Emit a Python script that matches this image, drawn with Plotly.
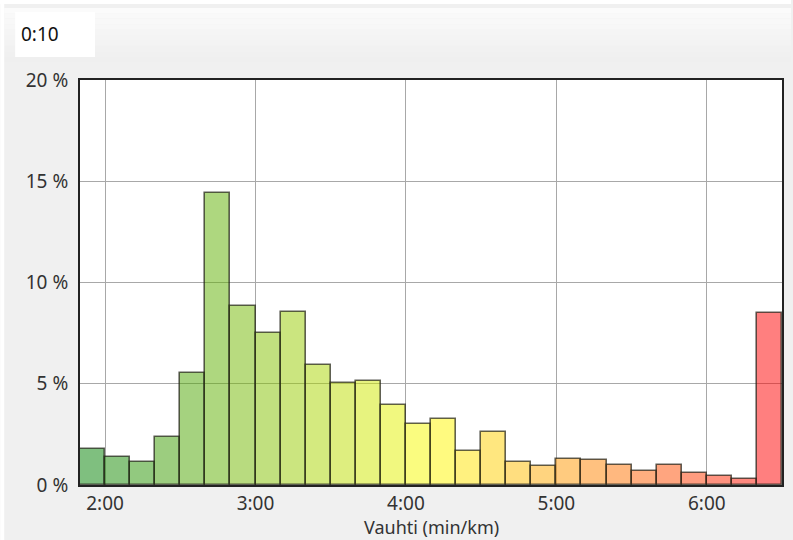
import plotly.graph_objects as go

# ---- data ----
bin_start_sec = [110, 120, 130, 140, 150, 160, 170, 180, 190, 200, 210, 220, 230, 240,
                 250, 260, 270, 280, 290, 300, 310, 320, 330, 340, 350, 360, 370, 380]
share_pct = [1.77, 1.40, 1.16, 2.36, 5.55, 14.41, 8.83, 7.52, 8.53, 5.94, 5.05, 5.15, 3.96, 2.99,
             3.24, 1.70, 2.62, 1.15, 0.96, 1.26, 1.25, 0.98, 0.70, 0.98, 0.58, 0.45, 0.32, 8.50]
x_tick_sec = [120, 180, 240, 300, 360]
x_tick_labels = ["2:00", "3:00", "4:00", "5:00", "6:00"]
y_ticks = [0, 5, 10, 15, 20]
y_tick_labels = ["0 %", "5 %", "10 %", "15 %", "20 %"]
bin_width_sec = 10
x_title = "Vauhti (min/km)"
bin_label = "0:10"

# ---- styling ----
W, H = 793, 540
L, R, T, B = 80, 784, 80, 485
FONT = "Noto Sans"
FS = 19


def grad_color(t):
    # green -> yellow -> red
    if t <= 0.5:
        f = t / 0.5
        r, g, b = 0 + 255 * f, 128 + 127 * f, 0
    else:
        f = (t - 0.5) / 0.5
        r, g, b = 255, 255 * (1 - f), 0
    return f"rgba({r:.0f},{g:.0f},{b:.0f},0.5)"


n = len(share_pct)
colors = [grad_color(i / (n - 1)) for i in range(n)]

fig = go.Figure()
fig.add_trace(go.Bar(
    x=bin_start_sec, y=share_pct, width=bin_width_sec, offset=0,
    marker=dict(color=colors, line=dict(color="rgba(30,30,20,0.7)", width=1.6)),
    hoverinfo="skip", showlegend=False,
))


def px_x(px):
    return (px - L) / (R - L)


def px_y(py):
    return (B - py) / (B - T)


shapes = []
# top gradient strip
strip_top, strip_bot = 8, 62
nb = 10
for i in range(nb):
    y0 = strip_top + (strip_bot - strip_top) * i / nb
    y1 = strip_top + (strip_bot - strip_top) * (i + 1) / nb
    v = int(251 - (251 - 239) * i / (nb - 1))
    shapes.append(dict(type="rect", xref="paper", yref="paper", layer="below",
                       x0=px_x(4), x1=px_x(W), y0=px_y(y1), y1=px_y(y0),
                       line=dict(width=0), fillcolor=f"rgb({v},{v},{v})"))
# white outer margins
shapes.append(dict(type="rect", xref="paper", yref="paper", layer="below",
                   x0=px_x(0), x1=px_x(W), y0=px_y(4), y1=px_y(0),
                   line=dict(width=0), fillcolor="white"))
shapes.append(dict(type="rect", xref="paper", yref="paper", layer="below",
                   x0=px_x(0), x1=px_x(4), y0=px_y(H), y1=px_y(0),
                   line=dict(width=0), fillcolor="white"))
# white label box
shapes.append(dict(type="rect", xref="paper", yref="paper", layer="below",
                   x0=px_x(15), x1=px_x(95), y0=px_y(57), y1=px_y(12),
                   line=dict(width=0), fillcolor="white"))

fig.update_layout(
    width=W, height=H,
    margin=dict(l=L, r=W - R, t=T, b=H - B, pad=0),
    paper_bgcolor="#f0f0f0",
    plot_bgcolor="white",
    font=dict(family=FONT, size=FS, color="#333333"),
    bargap=0,
    shapes=shapes,
    annotations=[
        dict(text=bin_label, xref="paper", yref="paper", x=px_x(19), y=px_y(34),
             xanchor="left", yanchor="middle", showarrow=False,
             font=dict(family=FONT, size=FS, color="#111111")),
        dict(text=x_title, xref="paper", yref="paper", x=0.5, y=px_y(527),
             xanchor="center", yanchor="middle", showarrow=False,
             font=dict(family=FONT, size=FS - 1, color="#333333")),
    ],
    xaxis=dict(range=[110, 390], tickvals=x_tick_sec, ticktext=x_tick_labels,
               showgrid=True, gridcolor="#a8a8a8", gridwidth=1, zeroline=False,
               showline=True, linecolor="#222222", linewidth=2, mirror=True,
               ticks="", ticklabelstandoff=0),
    yaxis=dict(range=[0, 20], tickvals=y_ticks, ticktext=y_tick_labels,
               showgrid=True, gridcolor="#a8a8a8", gridwidth=1, zeroline=False,
               showline=True, linecolor="#222222", linewidth=2, mirror=True,
               ticks="", ticklabelstandoff=6),
)

fig.write_html("out.html", config={"displayModeBar": False},
               post_script="document.body.style.margin='0';document.body.style.padding='0';")
